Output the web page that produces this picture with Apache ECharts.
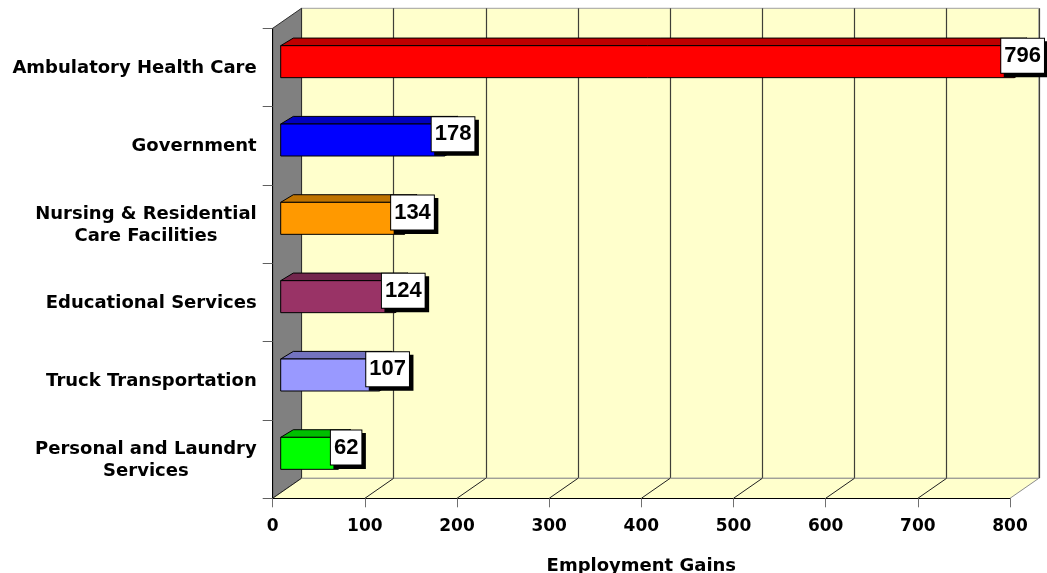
<!DOCTYPE html>
<html>
<head>
<meta charset="utf-8">
<script src="https://cdn.jsdelivr.net/npm/echarts@6/dist/echarts.min.js"></script>
<style>
  html, body { margin: 0; padding: 0; background: #ffffff; }
  #chart { width: 1047px; height: 573px; }
</style>
</head>
<body>
<div id="chart"></div>
<script>
// ---- data ----
const categories = [
  'Ambulatory Health Care',
  'Government',
  'Nursing & Residential\nCare Facilities',
  'Educational Services',
  'Truck Transportation',
  'Personal and Laundry\nServices'
];
const gains = [796, 178, 134, 124, 107, 62];
const barColors = ['#FF0000', '#0000FF', '#FF9900', '#993366', '#9999FF', '#00FF00'];
const xTicks = [0, 100, 200, 300, 400, 500, 600, 700, 800];
const axisTitle = 'Employment Gains';

// ---- layout of the pseudo-3D box ----
const FRONT = { left: 272.7, right: 37, top: 28.3, bottom: 74.7 };
const WALL_DX = 28.8, WALL_DY = -20;
const BACK = {
  left: FRONT.left + WALL_DX,
  right: FRONT.right - WALL_DX,
  top: FRONT.top + WALL_DY,
  bottom: FRONT.bottom - WALL_DY
};
const BAR_FRONT = { dx: 8, dy: -5.8 };   // front face of the bars sits slightly inside the box
const BAR_DEPTH = { dx: 12.6, dy: -7.6 }; // thickness of a bar going back
const BAR_HALF = 16;                     // half height of a bar's front face

const AXIS_FONT = 'DejaVu Sans';
const VALUE_FONT = 'Liberation Sans';

function shade(hex, k) {
  const n = parseInt(hex.slice(1), 16);
  const r = Math.round(((n >> 16) & 255) * k);
  const g = Math.round(((n >> 8) & 255) * k);
  const b = Math.round((n & 255) * k);
  return 'rgb(' + r + ',' + g + ',' + b + ')';
}

// side wall, floor and the floor's depth lines
function renderScenery(params, api) {
  const cs = params.coordSys;
  const L = cs.x, T = cs.y, B = cs.y + cs.height, R = cs.x + cs.width;
  const children = [];
  children.push({
    type: 'polygon',
    shape: { points: [[L, T], [L + WALL_DX, T + WALL_DY], [L + WALL_DX, B + WALL_DY], [L, B]] },
    style: { fill: '#808080', stroke: '#303030', lineWidth: 1 }
  });
  children.push({
    type: 'polygon',
    shape: { points: [[L, B], [L + WALL_DX, B + WALL_DY], [R + WALL_DX, B + WALL_DY], [R, B]] },
    style: { fill: '#FFFFCC', stroke: null }
  });
  children.push({
    type: 'polyline',
    shape: { points: [[L + WALL_DX, B + WALL_DY], [R + WALL_DX, B + WALL_DY], [R, B]] },
    style: { stroke: '#8c8c8c', lineWidth: 1, fill: null }
  });
  xTicks.forEach(function (t, k) {
    if (k === xTicks.length - 1) return;
    const x = api.coord([t, 0])[0];
    children.push({
      type: 'line',
      shape: { x1: x, y1: B, x2: x + WALL_DX, y2: B + WALL_DY },
      style: { stroke: '#202020', lineWidth: 1 }
    });
  });
  return { type: 'group', children: children };
}

// one 3D bar with its value box
function renderBar(params, api) {
  const i = params.dataIndex;
  const v = api.value(0);
  const cat = api.value(1);
  const p0 = api.coord([0, cat]);
  const p1 = api.coord([v, cat]);
  const x0 = p0[0] + BAR_FRONT.dx;
  const x1 = p1[0] + BAR_FRONT.dx;
  const yc = p0[1] + BAR_FRONT.dy;
  const yt = yc - BAR_HALF, yb = yc + BAR_HALF;
  const dx = BAR_DEPTH.dx, dy = BAR_DEPTH.dy;
  const base = barColors[i];
  const edge = { stroke: '#000', lineWidth: 1, lineJoin: 'miter' };
  return {
    type: 'group',
    children: [
      {
        type: 'polygon',
        shape: { points: [[x0, yt], [x0 + dx, yt + dy], [x1 + dx, yt + dy], [x1, yt]] },
        style: Object.assign({ fill: shade(base, 0.75) }, edge)
      },
      {
        type: 'polygon',
        shape: { points: [[x1, yt], [x1 + dx, yt + dy], [x1 + dx, yb + dy], [x1, yb]] },
        style: Object.assign({ fill: shade(base, 0.5) }, edge)
      },
      {
        type: 'rect',
        shape: { x: x0, y: yt, width: x1 - x0, height: yb - yt },
        style: Object.assign({ fill: base }, edge)
      },
      {
        type: 'text',
        x: x1 + dx / 2 + 2,
        y: yc + dy / 2 - 2,
        style: {
          text: String(v),
          font: 'bold 22px "' + VALUE_FONT + '"',
          fill: '#000',
          align: 'center',
          verticalAlign: 'middle',
          backgroundColor: '#FFFFFF',
          borderColor: '#000',
          borderWidth: 1,
          padding: [7, 3, 5, 3],
          shadowColor: '#000',
          shadowBlur: 0,
          shadowOffsetX: 3.5,
          shadowOffsetY: 3.5
        }
      }
    ]
  };
}

const chart = echarts.init(document.getElementById('chart'), null, { renderer: 'canvas' });

chart.setOption({
  animation: false,
  backgroundColor: '#FFFFFF',
  grid: [
    {
      left: BACK.left, right: BACK.right, top: BACK.top, bottom: BACK.bottom,
      show: true, backgroundColor: '#FFFFCC', borderColor: '#A0A0A0', borderWidth: 1,
      outerBoundsMode: 'none'
    },
    {
      left: FRONT.left, right: FRONT.right, top: FRONT.top, bottom: FRONT.bottom,
      outerBoundsMode: 'none'
    }
  ],
  xAxis: [
    {
      gridIndex: 0, type: 'value', min: 0, max: 800, interval: 100,
      axisLine: { show: false }, axisTick: { show: false }, axisLabel: { show: false },
      splitLine: { show: true, lineStyle: { color: '#3f3f38', width: 1.2 } }
    },
    {
      gridIndex: 1, type: 'value', min: 0, max: 800, interval: 100, z: 10,
      axisLine: { show: true, onZero: false, lineStyle: { color: '#000', width: 1 } },
      axisTick: { show: true, length: 9, lineStyle: { color: '#707070' } },
      axisLabel: {
        margin: 20, color: '#000', fontFamily: AXIS_FONT, fontWeight: 'bold', fontSize: 17,
        showMinLabel: true, showMaxLabel: true
      },
      splitLine: { show: false },
      name: axisTitle, nameLocation: 'middle', nameGap: 59,
      nameTextStyle: { color: '#000', fontFamily: AXIS_FONT, fontWeight: 'bold', fontSize: 18 }
    }
  ],
  yAxis: [
    { gridIndex: 0, type: 'value', show: false, min: 0, max: 1 },
    {
      gridIndex: 1, type: 'category', data: categories, inverse: true, z: 10,
      axisLine: { show: true, onZero: false, lineStyle: { color: '#000', width: 1 } },
      axisTick: { show: true, length: 10, lineStyle: { color: '#606060' } },
      axisLabel: {
        margin: 16, color: '#000', interval: 0,
        formatter: function (s) {
          return s.split('\n').map(function (line) { return '{c|' + line + '}'; }).join('\n');
        },
        rich: {
          c: {
            align: 'center', color: '#000', fontFamily: AXIS_FONT, fontWeight: 'bold',
            fontSize: 18, lineHeight: 22, padding: [2, 0, 0, 0]
          }
        }
      },
      splitLine: { show: false }
    }
  ],
  series: [
    {
      type: 'custom', name: 'scenery', xAxisIndex: 1, yAxisIndex: 1, z: 1, clip: false,
      silent: true, data: [[0, 0]], renderItem: renderScenery
    },
    {
      type: 'custom', name: 'gains', xAxisIndex: 1, yAxisIndex: 1, z: 3, clip: false,
      silent: true,
      data: gains.map(function (v, i) { return [v, i]; }),
      encode: { x: 0, y: 1 },
      renderItem: renderBar
    }
  ]
});
</script>
</body>
</html>
